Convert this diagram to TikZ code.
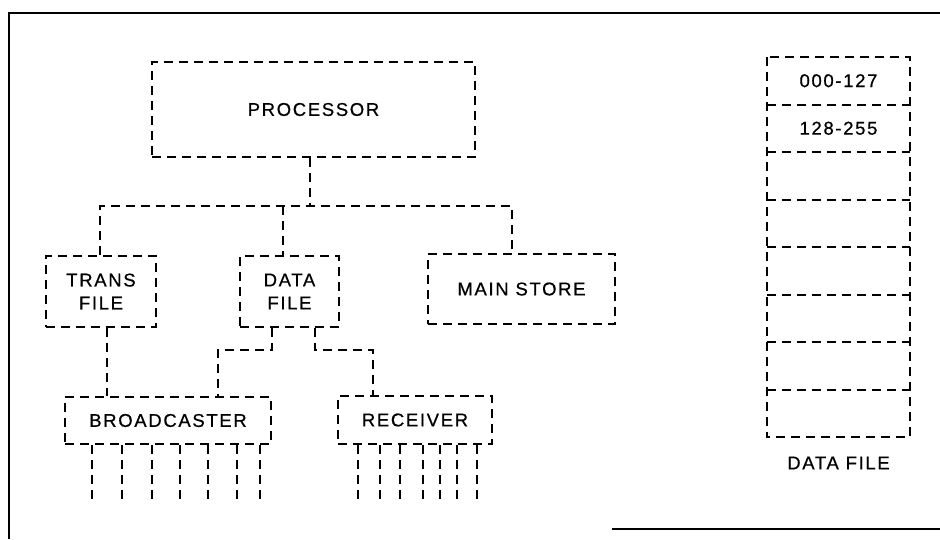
\documentclass[tikz,border=0pt]{standalone}
\usepackage{fontspec}
\newfontfamily\lab[LetterSpace=9,FakeBold=0.6]{Liberation Sans}
\begin{document}
\begin{tikzpicture}[x=1pt,y=-1pt,
  dl/.style={line width=2pt, dash pattern=on 9pt off 6pt},
  boxn/.style={draw, dl, inner sep=0pt, align=center,
    font=\lab\fontsize{18.5}{23}\selectfont},
  txt/.style={inner sep=0pt, align=center, font=\lab\fontsize{18.5}{23}\selectfont},
  frame/.style={line width=2.6pt}]
\useasboundingbox (0,0) rectangle (940,539);
% frame
\draw[frame] (9,539) -- (9,13) -- (940,13);
\draw[frame] (612,529) -- (940,529);
% boxes
\node[boxn, minimum width=323pt, minimum height=95pt] (proc) at (313.5,109.5) {PROCESSOR};
\node[boxn, minimum width=110pt, minimum height=71pt] (trans) at (101,291.5) {TRANS\\FILE};
\node[boxn, minimum width=99pt, minimum height=71pt] (data) at (289.5,291.5) {DATA\\FILE};
\node[boxn, minimum width=187pt, minimum height=70pt] (main) at (521.5,289) {MAIN STORE};
\node[boxn, minimum width=206pt, minimum height=47pt] (broad) at (168,420.5) {BROADCASTER};
\node[boxn, minimum width=154pt, minimum height=48pt] (recv) at (415,420) {RECEIVER};
% bus
\coordinate (bus) at (310,206);
\coordinate (tdrop) at (100,0);
\coordinate (ddrop) at (283,0);
\coordinate (mdrop) at (512,0);
\draw[dl] (proc.south -| bus) -- (bus);
\draw[dl] (trans.north -| tdrop) -- (tdrop |- bus) -- (mdrop |- bus) -- (main.north -| mdrop);
\draw[dl] (ddrop |- bus) -- (data.north -| ddrop);
% trans to broadcaster
\coordinate (tb) at (107,0);
\draw[dl] (trans.south -| tb) -- (broad.north -| tb);
% data to broadcaster / receiver
\coordinate (dl1) at (272,350);
\coordinate (dl2) at (218,350);
\coordinate (dr1) at (315,350);
\coordinate (dr2) at (373,350);
\draw[dl] (data.south -| dl1) -- (dl1) -- (dl2) -- (broad.north -| dl2);
\draw[dl] (data.south -| dr1) -- (dr1) -- (dr2) -- (recv.north -| dr2);
% output stubs
\foreach \x in {92,122,152,180,208,237,260}
  \draw[dl] (broad.south -| \x,0) -- (\x,503);
\foreach \x in {358,380,400,423,440,457,477}
  \draw[dl] (recv.south -| \x,0) -- (\x,503);
% data file memory
\foreach \i in {1,...,8}
  \node[inner sep=0pt, minimum width=143pt, minimum height=47.5pt] (r\i) at (838.5,{57+47.5*(\i-0.5)}) {};
\node[txt] at (r1) {000-127};
\node[txt] at (r2) {128-255};
\draw[dl] (r1.north west) rectangle (r8.south east);
\foreach \i in {1,...,7}
  \draw[dl] (r\i.south west) -- (r\i.south east);
\node[txt] (dflabel) at (838.5,463) {DATA FILE};
\end{tikzpicture}
\end{document}
